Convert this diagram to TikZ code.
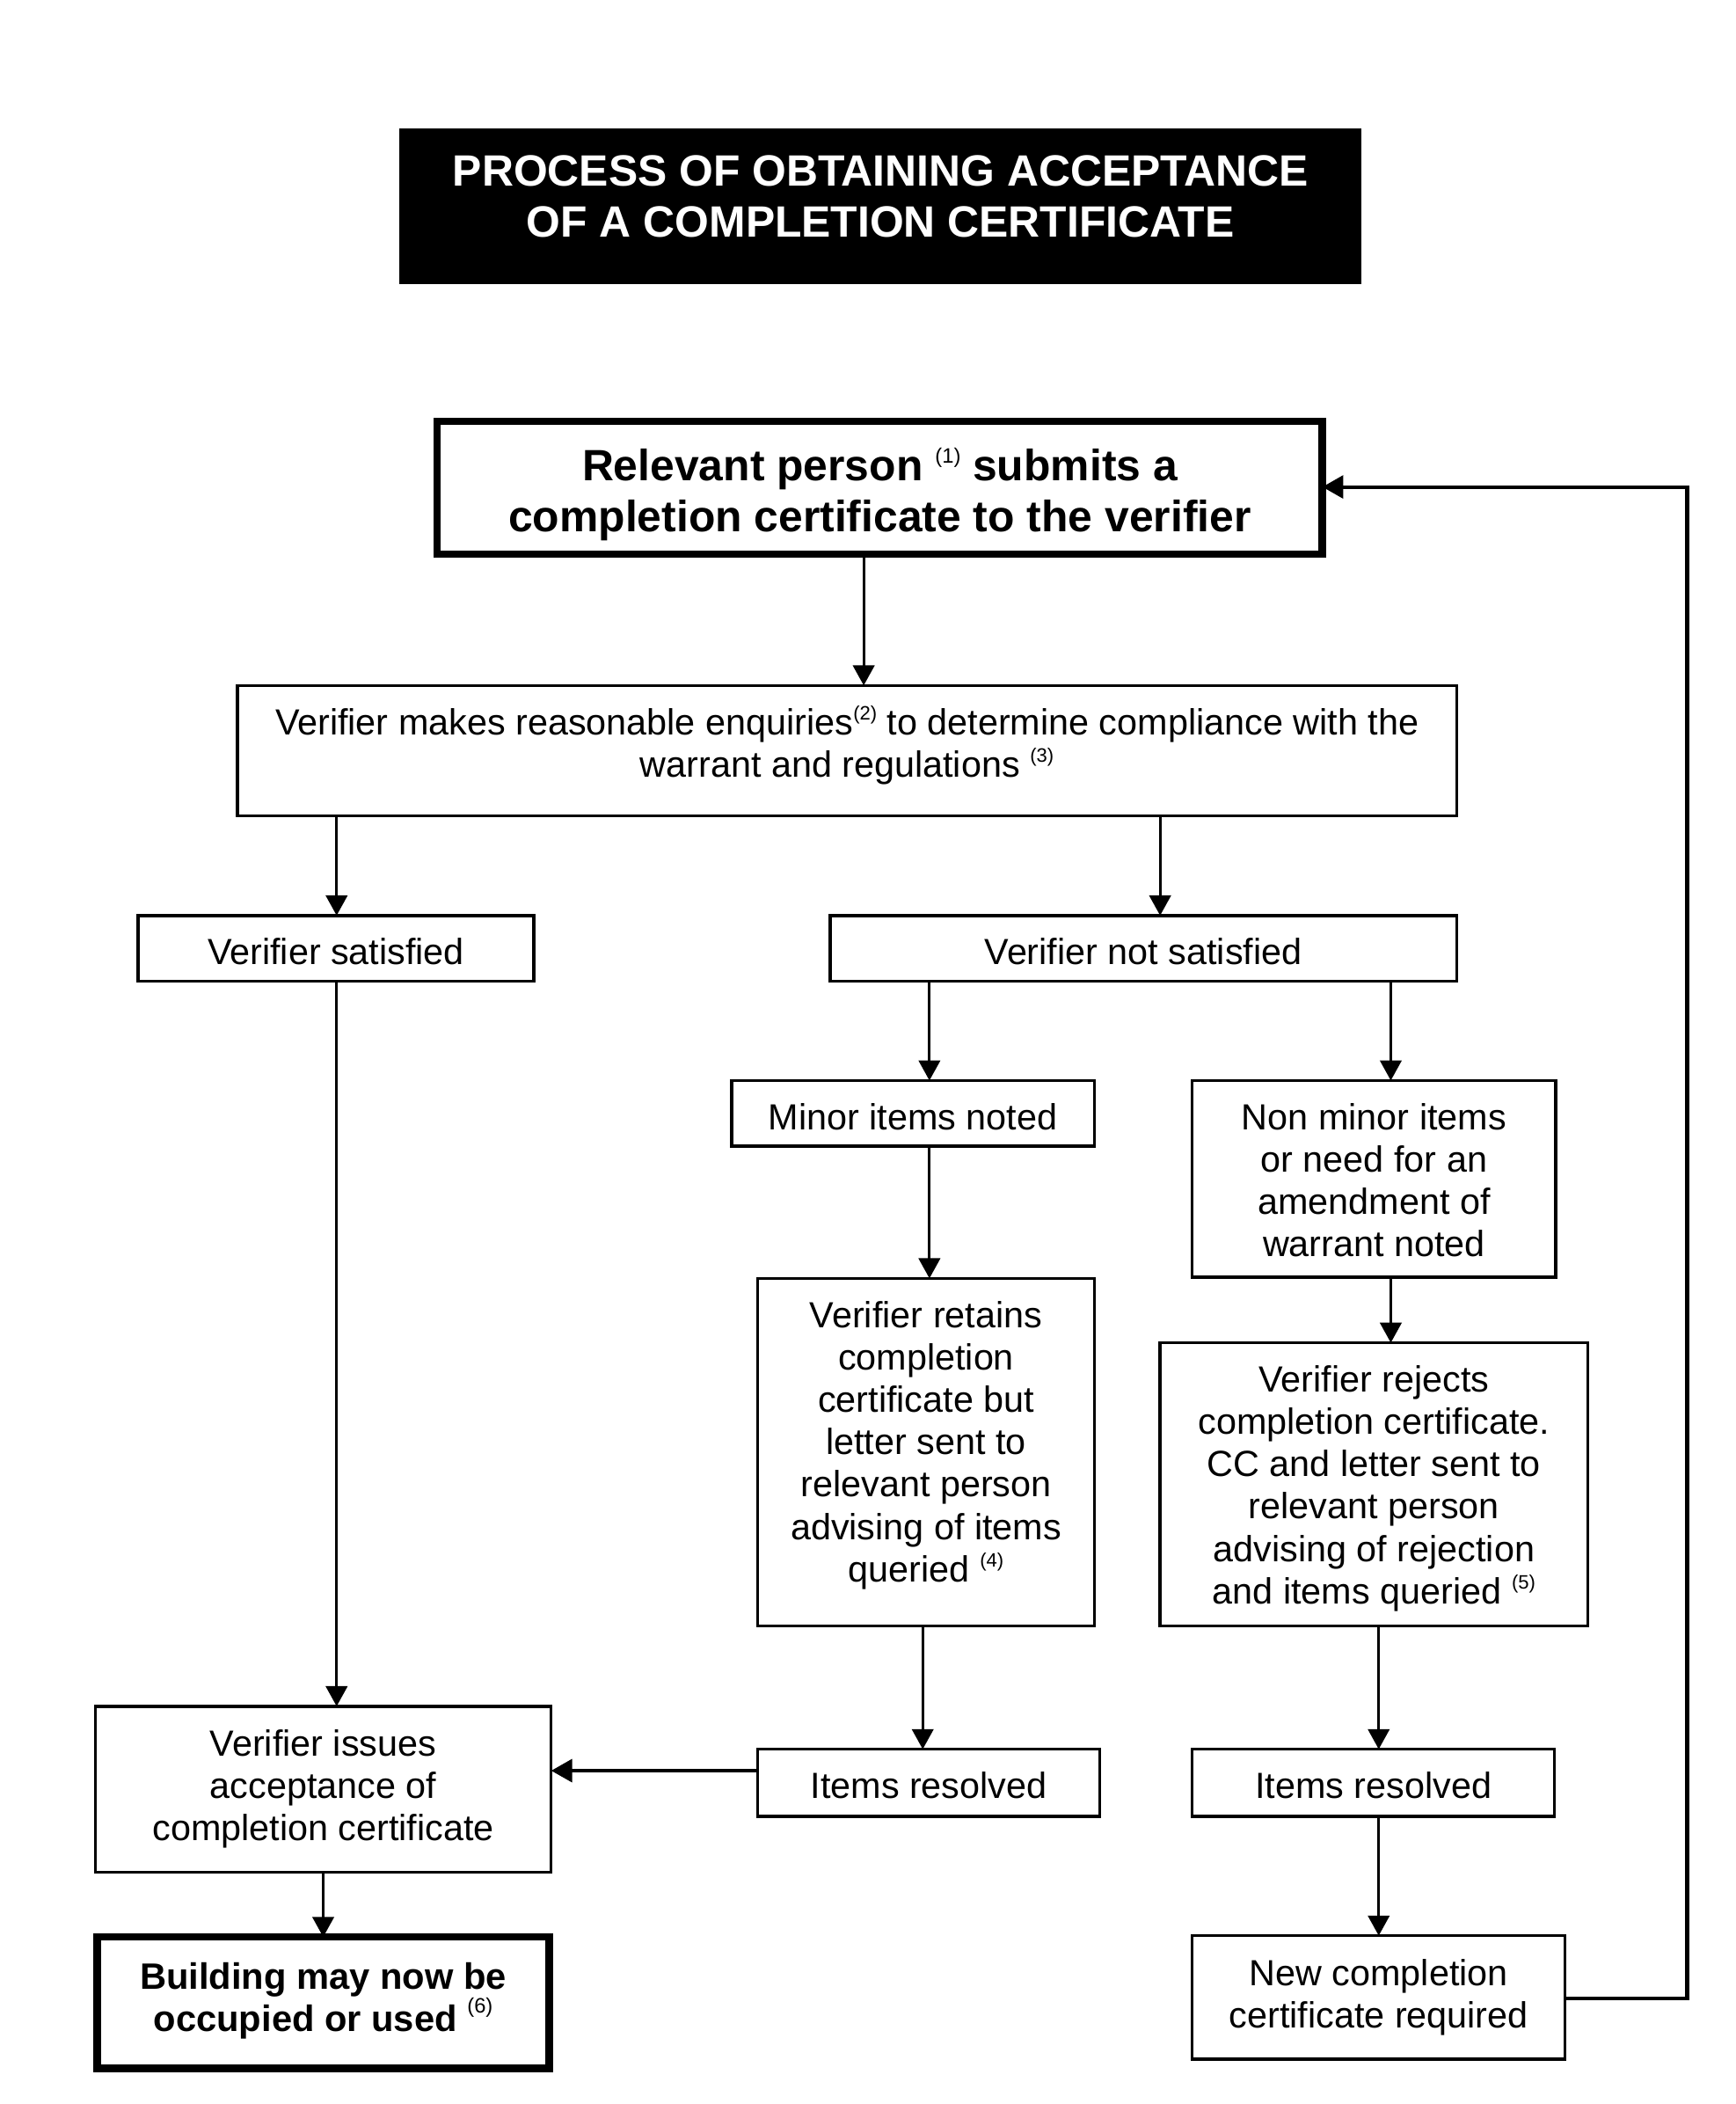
\documentclass[tikz,border=0pt]{standalone}
\usepackage{fontspec}
\setmainfont{Liberation Sans}
\usetikzlibrary{arrows.meta}
\def\un{0.45pt}
\newcommand\supr[1]{\raisebox{5pt}{\fontsize{6.5}{7}\selectfont(#1)}}
\newcommand\supb[1]{\raisebox{6pt}{\fontsize{7}{8}\selectfont\mdseries(#1)}}
% struts that move a node's text block: \deep adds depth below the last line,
% \tall sets the height of the first line
\newcommand\deep[1]{\rule[-#1]{0pt}{0pt}}
\newcommand\tall[1]{\rule{0pt}{#1}}
\begin{document}
\begin{tikzpicture}[x=0.45pt,y=-0.45pt,
  box/.style 2 args={draw,line width=1pt,inner sep=0pt,outer sep=0pt,
    minimum width=#1*\un,minimum height=#2*\un,align=center,
    font=\fontsize{12.2}{14.2}\selectfont},
  thickbox/.style 2 args={box={#1}{#2},line width=2.5pt,
    font=\bfseries\fontsize{14.7}{17.1}\selectfont},
  arr/.style={line width=0.9pt,-{Triangle[length=6.75pt,width=7.2pt]}},
  arrb/.style={line width=1.2pt,-{Triangle[length=7pt,width=7.6pt]}},
]
\useasboundingbox (0,0) rectangle (1293.8,1568.5);
\fill[white] (0,0) rectangle (1293.8,1568.5);

\node[box={715}{114},fill=black,text=white,
  font=\bfseries\fontsize{14.7}{17.1}\selectfont] (title) at (656.5,154)
  {PROCESS OF OBTAINING ACCEPTANCE\\OF A COMPLETION CERTIFICATE\deep{6.8pt}};

\node[thickbox={660}{99}] (submit) at (656,363.5)
  {\tall{15.6pt}Relevant person \supb{1} submits a\\completion certificate to the verifier};

\node[box={909}{97}] (enq) at (631.5,559.5)
  {Verifier makes reasonable enquiries\supr{2} to determine compliance with the\\warrant and regulations \supr{3}\deep{6.2pt}};

\node[box={295}{49}] (sat) at (250.5,707) {\tall{11pt}Verifier satisfied};
\node[box={467}{49}] (notsat) at (852.5,707) {\tall{11pt}Verifier not satisfied};

\node[box={270.5}{49}] (minor) at (680.75,830) {\tall{11pt}Minor items noted};
\node[box={271}{146.5}] (nonminor) at (1024.5,878.75)
  {\tall{9.8pt}Non minor items\\or need for an\\amendment of\\warrant noted};

\node[box={251}{259}] (retain) at (690.5,1082.5)
  {Verifier retains\\completion\\certificate but\\letter sent to\\relevant person\\advising of items\\queried \supr{4}\deep{7.1pt}};
\node[box={319}{211}] (reject) at (1024.5,1106.5)
  {\tall{11.6pt}Verifier rejects\\completion certificate.\\CC and letter sent to\\relevant person\\advising of rejection\\and items queried \supr{5}};

\node[box={255}{50}] (res1) at (692.5,1329) {\tall{10.6pt}Items resolved};
\node[box={270}{50}] (res2) at (1024,1329) {\tall{10.6pt}Items resolved};

\node[box={340}{123.5}] (issue) at (241,1333.75)
  {Verifier issues\\acceptance of\\completion certificate};

\node[thickbox={337}{98},font=\bfseries\fontsize{12.3}{14.1}\selectfont] (build) at (241,1493)
  {Building may now be\\occupied or used \supb{6}\deep{3.9pt}};

\node[box={278}{92}] (newcc) at (1028,1489)
  {New completion\\certificate required};

% connector guide coordinates
\coordinate (xa) at (644,0);
\coordinate (xb) at (251,0);
\coordinate (xc) at (865,0);
\coordinate (xd) at (693,0);
\coordinate (xe) at (1037,0);
\coordinate (xf) at (688,0);
\coordinate (xg) at (1028,0);
\coordinate (xh) at (241,0);
\coordinate (yi) at (0,1320);
\coordinate (yr) at (0,363);
\coordinate (yn) at (0,1490);
\coordinate (ret) at (1258,0);

\draw[arr] (xa |- submit.south) -- (xa |- enq.north);
\draw[arr] (xb |- enq.south) -- (xb |- sat.north);
\draw[arr] (xc |- enq.south) -- (xc |- notsat.north);
\draw[arr] (xd |- notsat.south) -- (xd |- minor.north);
\draw[arr] (xe |- notsat.south) -- (xe |- nonminor.north);
\draw[arr] (xd |- minor.south) -- (xd |- retain.north);
\draw[arr] (xe |- nonminor.south) -- (xe |- reject.north);
\draw[arr] (xf |- retain.south) -- (xf |- res1.north);
\draw[arr] (xg |- reject.south) -- (xg |- res2.north);
\draw[arr] (xb |- sat.south) -- (xb |- issue.north);
\draw[arrb] (res1.west |- yi) -- (issue.east |- yi);
\draw[arr] (xh |- issue.south) -- (xh |- build.north);
\draw[arr] (xg |- res2.south) -- (xg |- newcc.north);
\draw[arrb] (newcc.east |- yn) -- (ret |- yn) -- (ret |- yr) -- (submit.east |- yr);
\end{tikzpicture}
\end{document}
